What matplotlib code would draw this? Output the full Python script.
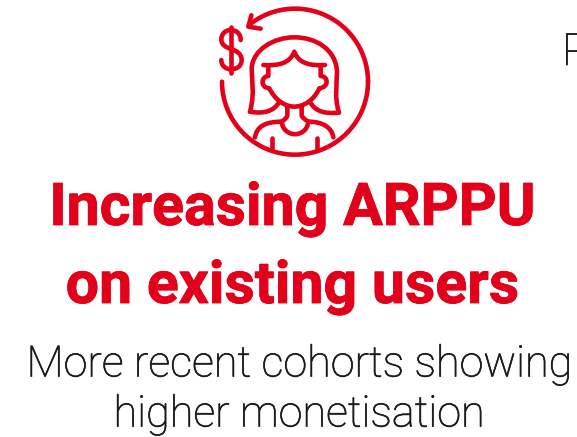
import numpy as np
from matplotlib import pyplot as plt
from matplotlib.path import Path
from matplotlib.patches import PathPatch
import matplotlib.patheffects as pe

RED = '#e2001a'
DARK = '#1a1a1a'
ICON_LW = 3.3
title_lines = ['Increasing ARPPU', 'on existing users']
sub_lines = ['More recent cohorts showing', 'higher monetisation']

fig = plt.figure(figsize=(5.77, 4.37), dpi=100)
ax = fig.add_axes([0, 0, 1, 1])
ax.set_xlim(0, 577)
ax.set_ylim(437, 0)
ax.axis('off')


def px(p):
    # points are in 3x zoom coords of the icon
    return (200 + p[0] / 3, p[1] / 3)


def curve(start, *segs, lw=ICON_LW):
    verts = [px(start)]
    codes = [Path.MOVETO]
    for s in segs:
        if len(s) == 1:
            verts.append(px(s[0]))
            codes.append(Path.LINETO)
        else:
            verts += [px(q) for q in s]
            codes += [Path.CURVE4] * 3
    ax.add_patch(PathPatch(Path(verts, codes), fc='none', ec=RED, lw=lw,
                           capstyle='round', joinstyle='round'))


# big circle arrow
cx, cy, r = 285, 245, 219
t = np.radians(np.linspace(180, 0, 120))
ax.plot(200 + (cx + r * np.cos(t)) / 3, (cy + r * np.sin(t)) / 3,
        color=RED, lw=ICON_LW, solid_capstyle='round')
t = np.radians(np.linspace(0, -129, 100))
ax.plot(200 + (cx + r * np.cos(t)) / 3, (cy + r * np.sin(t)) / 3,
        color=RED, lw=ICON_LW, solid_capstyle='round')
# arrow head
curve((154, 46), [(145, 80)], [(182, 86)])

# dollar sign
curve((122, 120), [(122, 100), (108, 90), (93, 90)], [(75, 90), (64, 103), (64, 118)],
      [(64, 135), (78, 142), (93, 147)], [(110, 152), (125, 162), (125, 180)],
      [(125, 198), (110, 208), (93, 208)], [(78, 208), (64, 198), (64, 180)])
curve((93, 80), [(93, 218)])

# hair
curve((150, 335), [(165, 280), (155, 235), (155, 205)], [(158, 150), (220, 112), (283, 112)],
      [(350, 112), (408, 150), (411, 215)], [(411, 250), (402, 290), (417, 338)],
      [(375, 342), (345, 335), (330, 305)])
curve((150, 335), [(190, 342), (222, 335), (238, 305)])
# fringe
curve((190, 195), [(235, 198), (270, 190), (283, 155)], [(295, 190), (330, 198), (375, 195)])
# face
curve((205, 200), [(205, 228)], [(185, 228), (178, 262), (208, 265)],
      [(225, 300), (255, 320), (283, 320)], [(312, 320), (342, 300), (358, 265)],
      [(388, 262), (385, 228), (362, 228)], [(362, 200)])
# neck and shirt
curve((262, 318), [(262, 345)], [(262, 352), (255, 358), (245, 365)],
      [(250, 415), (320, 415), (325, 365)], [(315, 358), (305, 352), (305, 345)], [(305, 318)])
curve((165, 412), [(170, 380), (195, 365), (245, 365)])
curve((400, 412), [(395, 380), (365, 365), (325, 365)])
curve((215, 415), [(215, 448)])
curve((350, 415), [(350, 448)])

for s, y in zip(title_lines, [209, 287]):
    ax.text(292.5, y, s, color=RED, fontsize=42.5, fontweight='bold',
            family='Roboto', ha='center', va='center',
            path_effects=[pe.withStroke(linewidth=0.6, foreground=RED)])
thicken = [pe.withStroke(linewidth=0.45, foreground=DARK)]
for s, y in zip(sub_lines, [365, 415]):
    ax.text(298.5, y, s, color=DARK, fontsize=31.1, fontweight='light',
            family='Roboto', ha='center', va='center', path_effects=thicken)
ax.text(562, 65, 'P', color=DARK, fontsize=32, fontweight='light',
        family='Roboto', ha='left', va='baseline', path_effects=thicken)

fig.savefig('out.png', dpi=100)
